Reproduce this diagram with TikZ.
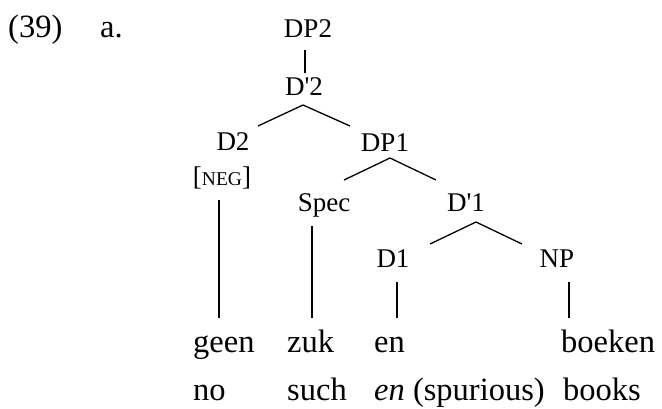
\documentclass[tikz,border=0pt]{standalone}
\usepackage{fontspec}
\setmainfont{Liberation Serif}[Ligatures=TeXOff]
\usetikzlibrary{calc}
\begin{document}
\begin{tikzpicture}[x=1pt,y=-1pt,
  lab/.style={font=\fontsize{27}{31}\selectfont, inner sep=0pt, anchor=base},
  word/.style={font=\fontsize{32.5}{37}\selectfont, inner sep=0pt, anchor=base west},
  edge/.style={line width=1.3pt, black}]
\useasboundingbox (0,0) rectangle (662,408);
% example number
\node[word] (num) at (8,37) {(39)};
\node[word] (sub) at (100,37) {a.};
% tree labels
\node[lab] (dp2) at (308,37) {DP2};
\node[lab] (dpp2) at (304,95) {D'2};
\node[lab] (d2) at (233,150) {D2};
\node[lab] (neg) at (222,185) {[{\fontsize{19.5}{22}\selectfont NEG}]};
\node[lab] (dp1) at (385,151) {DP1};
\node[lab] (spec) at (324,211) {Spec};
\node[lab] (dpp1) at (466,211) {D'1};
\node[lab] (d1) at (393,267) {D1};
\node[lab] (np) at (557,267) {NP};
% words
\node[word] (geen) at (193,352) {geen};
\node[word] (zuk) at (287,352) {zuk};
\node[word] (en) at (374,352) {en};
\node[word] (boeken) at (561,352) {boeken};
\node[word] (no) at (193,400) {no};
\node[word] (such) at (287,400) {such};
\node[word] (enit) at (374,400) {\textit{en} (spurious)};
\node[word] (books) at (563,400) {books};
% connectors
\draw[edge] ($(dp2.base)+(-3,13)$) -- ($(dpp2.base)+(1,-22)$);
\draw[edge] ($(d2.base)+(25,-24)$) -- ($(dpp2.base)+(-1,10)$) -- ($(dp1.base)+(-35,-25)$);
\draw[edge] ($(spec.base)+(20,-31)$) -- ($(dp1.base)+(5,7)$) -- ($(dpp1.base)+(-30,-31)$);
\draw[edge] ($(d1.base)+(37,-23)$) -- ($(dpp1.base)+(10,11)$) -- ($(np.base)+(-35,-23)$);
\draw[edge] ($(neg.base)+(-3,15)$) -- ($(geen.base west)+(26,-34)$);
\draw[edge] ($(spec.base)+(-12,15)$) -- ($(zuk.base west)+(25,-34)$);
\draw[edge] ($(d1.base)+(4,15)$) -- ($(en.base west)+(23,-34)$);
\draw[edge] ($(np.base)+(12,15)$) -- ($(boeken.base west)+(8,-34)$);
\end{tikzpicture}
\end{document}
